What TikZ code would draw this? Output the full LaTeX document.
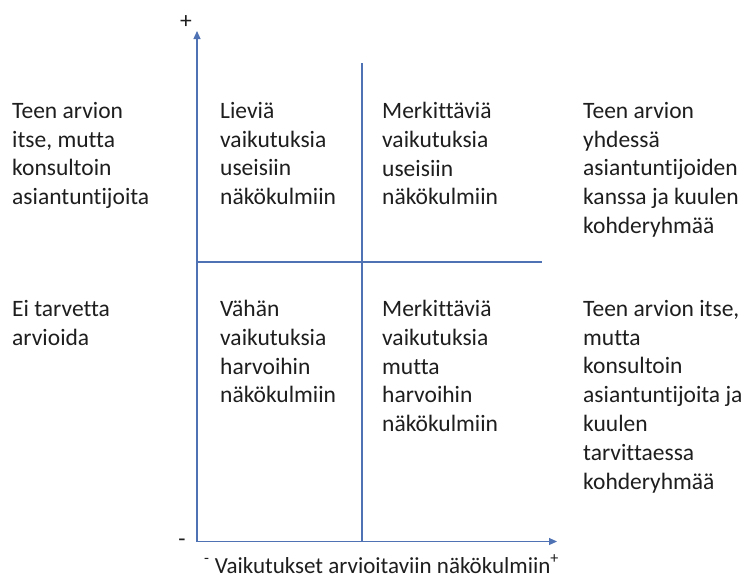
\documentclass[tikz,border=0pt]{standalone}
\usepackage{fontspec}
\setmainfont[Ligatures={NoCommon}]{Carlito}
\usetikzlibrary{arrows.meta}
\definecolor{axisblue}{RGB}{78,114,180}
\definecolor{txt}{RGB}{30,30,30}
\begin{document}
\begin{tikzpicture}[x=1pt,y=-1pt,
  lbl/.style={anchor=north west, inner sep=0pt, align=left, text=txt,
    font=\fontsize{23.5}{28.8}\selectfont,
    execute at begin node={\rule{0pt}{20pt}}},
  xlbl/.style={anchor=base west, inner sep=0pt, text=txt,
    font=\fontsize{23}{28}\selectfont},
  axisline/.style={draw=axisblue, line width=1.1pt},
  tip/.style={-{Triangle[length=8pt,width=7pt]}},
  sign/.style={inner sep=0pt, text=txt, font=\fontsize{23.5}{28.5}\selectfont}]
\useasboundingbox[fill=white] (0,0) rectangle (745,579);
% axes and grid
\coordinate (o) at (197,541.5);
\coordinate (ytop) at (197,31);
\coordinate (xend) at (557,541.5);
\coordinate (mtop) at (362,63);
\coordinate (mbot) at (362,541.5);
\coordinate (hl) at (197,262);
\coordinate (hr) at (542,262);
\draw[axisline,tip] (o) -- (ytop);
\draw[axisline,tip] (o) -- (xend);
\draw[axisline] (mtop) -- (mbot);
\draw[axisline] (hl) -- (hr);
% signs
\node[sign] (plustop) at (186,22) {+};
\node[sign] (minusleft) at (182,543) {-};
\node[xlbl] (xlabel) at (204,573) {\textsuperscript{-} Vaikutukset arvioitaviin näkökulmiin\textsuperscript{+}};
% top row (first baseline at y = 122)
\node[lbl] (tl) at (12,102) {Teen arvion\\itse, mutta\\konsultoin\\asiantuntijoita};
\node[lbl] (q1) at (220,102) {Lieviä\\vaikutuksia\\useisiin\\näkökulmiin};
\node[lbl] (q2) at (382,102) {Merkittäviä\\vaikutuksia\\useisiin\\näkökulmiin};
\node[lbl] (tr) at (583,102) {Teen arvion\\yhdessä\\asiantuntijoiden\\kanssa ja kuulen\\kohderyhmää};
% bottom row (first baseline at y = 320)
\node[lbl] (bl) at (12,300) {Ei tarvetta\\arvioida};
\node[lbl] (q3) at (220,300) {Vähän\\vaikutuksia\\harvoihin\\näkökulmiin};
\node[lbl] (q4) at (382,300) {Merkittäviä\\vaikutuksia\\mutta\\harvoihin\\näkökulmiin};
\node[lbl] (br) at (583,300) {Teen arvion itse,\\mutta\\konsultoin\\asiantuntijoita ja\\kuulen\\tarvittaessa\\kohderyhmää};
\end{tikzpicture}
\end{document}
